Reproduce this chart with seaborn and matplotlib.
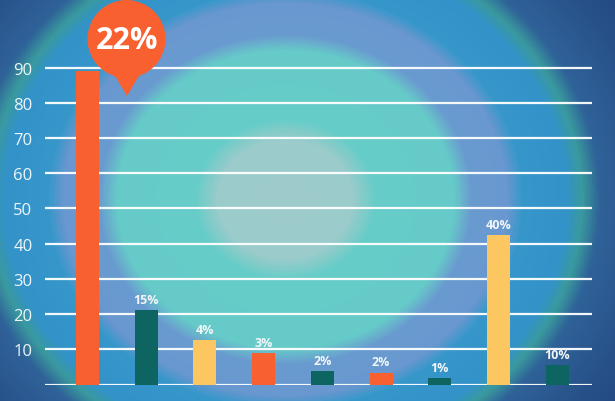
import numpy as np
import pandas as pd
import seaborn as sns
import matplotlib.pyplot as plt
from matplotlib.colors import LinearSegmentedColormap
from matplotlib.patches import Circle, Polygon

# data
categories = ['a', 'b', 'c', 'd', 'e', 'f', 'g', 'h', 'i']
values = [88.9, 21.2, 12.7, 8.9, 3.8, 3.4, 1.9, 42.5, 5.6]
pct_labels = ['22%', '15%', '4%', '3%', '2%', '2%', '1%', '40%', '10%']
bar_colors = ['#f9602f', '#0d6460', '#fcc661', '#f9602f', '#0d6460',
              '#f9602f', '#0d6460', '#fcc661', '#0d6460']
y_ticks = list(range(0, 100, 10))
y_tick_labels = [''] + [str(t) for t in y_ticks[1:]]
callout = '22%'

df = pd.DataFrame({'cat': categories, 'value': values})

sns.set_theme(style='white')
plt.rcParams['font.family'] = ['Open Sans', 'DejaVu Sans']

W, H = 615, 402
fig = plt.figure(figsize=(W / 100, H / 100), dpi=100)

# background glow
bg = fig.add_axes([0, 0, 1, 1], zorder=-2)
yy, xx = np.mgrid[0:H, 0:W]
d = np.sqrt(((xx - 285) / 300.0) ** 2 + ((yy - 200) / 265.0) ** 2)
dmax = 1.6
stops = [(0.0, '#9ecbcb'), (0.22, '#9ccbcb'), (0.30, '#67cdc8'), (0.56, '#66cbc8'),
         (0.62, '#6a9bd0'), (0.74, '#6898cf'), (0.79, '#3797cb'), (0.94, '#3393c9'),
         (0.99, '#3a9a9e'), (1.05, '#2f6298'), (1.25, '#274f88'), (1.6, '#1d3d75')]
cmap = LinearSegmentedColormap.from_list('glow', [(p / dmax, c) for p, c in stops])
bg.imshow(np.clip(d / dmax, 0, 1), cmap=cmap, aspect='auto', vmin=0, vmax=1,
          interpolation='bilinear')
bg.axis('off')

ax = fig.add_axes([45 / W, 16.5 / H, 547 / W, 352.2 / H])
ax.patch.set_alpha(0)
sns.barplot(data=df, x='cat', y='value', hue='cat', palette=bar_colors,
            width=0.39, legend=False, ax=ax, saturation=1, linewidth=0,
            zorder=3)
ax.set_xlim(-0.72, 8.59)
ax.set_ylim(0, 100)
ax.set_yticks(y_ticks)
ax.set_yticklabels(y_tick_labels, color='#eef6f8', fontsize=12)
ax.tick_params(axis='y', length=0, pad=9)
ax.set_xticks([])
ax.set_xlabel('')
ax.set_ylabel('')
ax.grid(axis='y', color='white', linewidth=1.6, alpha=0.95)
ax.set_axisbelow(True)
for s in ax.spines.values():
    s.set_visible(False)

for i, (v, lab) in enumerate(zip(values, pct_labels)):
    if i == 0:
        continue
    ax.annotate(lab, (i, v), xytext=(0, 3), textcoords='offset points',
                ha='center', va='bottom', color='#f2f6f8', fontsize=9,
                fontweight='bold')

# callout bubble for the first bar
ov = fig.add_axes([0, 0, 1, 1], zorder=5)
ov.set_xlim(0, W)
ov.set_ylim(H, 0)
ov.axis('off')
ov.add_patch(Polygon([[104, 58], [150, 58], [127, 97]], closed=True,
                     color='#f9602f', lw=0))
ov.add_patch(Circle((126.5, 40), 39, color='#f9602f', lw=0))
ov.text(127, 41, callout, ha='center', va='center', color='white',
        fontsize=22, fontweight='bold')

fig.savefig('out.png', dpi=100)
